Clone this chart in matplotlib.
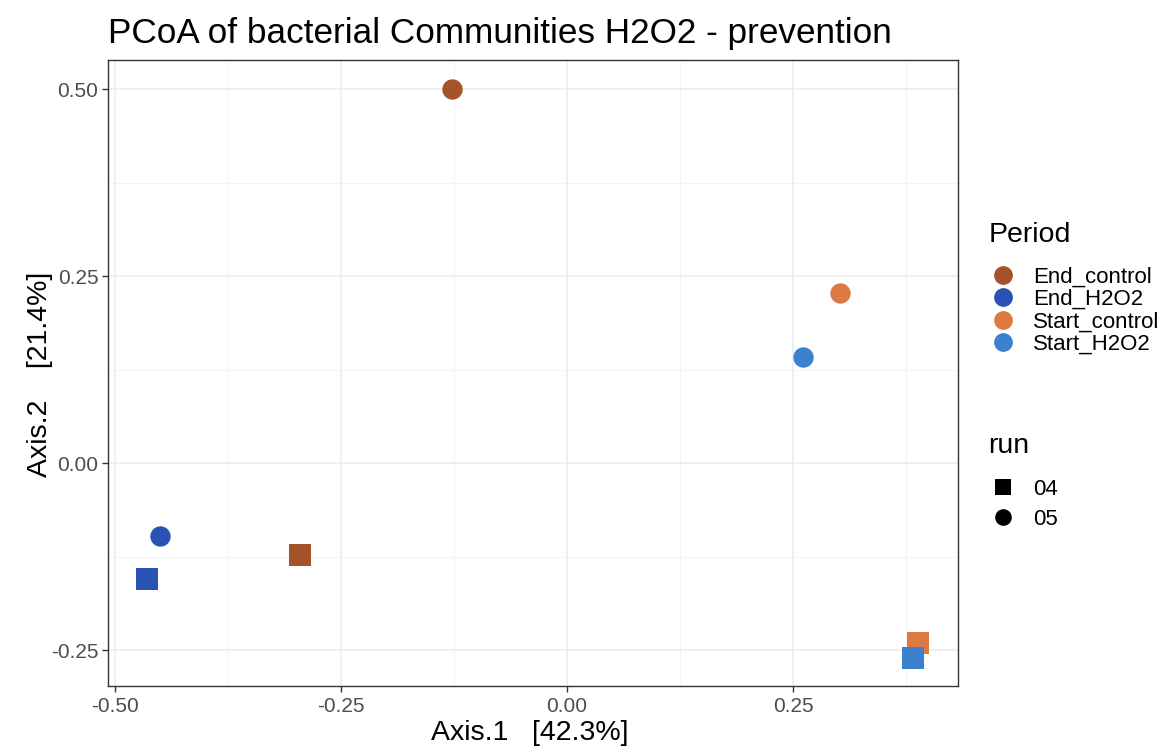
import matplotlib
matplotlib.use("Agg")
import matplotlib.pyplot as plt
from matplotlib.lines import Line2D

plt.rcParams['font.family'] = ['Liberation Sans', 'DejaVu Sans']

# PCoA coordinates of each sample
periods = ["End_control", "End_H2O2", "Start_control", "Start_H2O2",
           "End_control", "End_H2O2", "Start_control", "Start_H2O2"]
runs = ["05", "05", "05", "05", "04", "04", "04", "04"]
axis1 = [-0.127, -0.451, 0.302, 0.261, -0.296, -0.465, 0.388, 0.383]
axis2 = [0.500, -0.098, 0.227, 0.142, -0.123, -0.155, -0.240, -0.261]

period_levels = ["End_control", "End_H2O2", "Start_control", "Start_H2O2"]
period_colors = {"End_control": "#A5532B", "End_H2O2": "#2A52B5",
                 "Start_control": "#DD7A44", "Start_H2O2": "#3C80D0"}
run_levels = ["04", "05"]
run_markers = {"04": "s", "05": "o"}

x_ticks = [-0.50, -0.25, 0.00, 0.25]
y_ticks = [-0.25, 0.00, 0.25, 0.50]

W, H = 1168, 749
fig = plt.figure(figsize=(W / 100, H / 100), dpi=100)
ax = fig.add_axes([108 / W, 1 - 686 / H, 850 / W, 626 / H])


def fx(px):
    return px / W


def fy(py):
    return 1 - py / H


for x, y, p, r in zip(axis1, axis2, periods, runs):
    ax.scatter([x], [y], s=230 if r == "04" else 215, marker=run_markers[r],
               color=period_colors[p], linewidths=0, zorder=3)

ax.set_xlim(-0.508, 0.4325)
ax.set_ylim(-0.298, 0.539)
ax.set_xticks(x_ticks)
ax.set_yticks(y_ticks)
ax.set_xticklabels([f"{t:.2f}" for t in x_ticks])
ax.set_yticklabels([f"{t:.2f}" for t in y_ticks])
ax.set_xticks([-0.375, -0.125, 0.125, 0.375], minor=True)
ax.set_yticks([-0.125, 0.125, 0.375], minor=True)
ax.grid(which="major", color="#EBEBEB", linewidth=1.1, zorder=0)
ax.grid(which="minor", color="#F3F3F3", linewidth=0.6, zorder=0)
ax.set_axisbelow(True)
ax.tick_params(which="major", length=4, width=1, color="#333333",
               labelsize=15, labelcolor="#4D4D4D", pad=3)
ax.tick_params(axis="x", which="major", pad=4)
ax.tick_params(which="minor", length=0)
for sp in ax.spines.values():
    sp.set_color("#333333")
    sp.set_linewidth(1)

# Axis titles
fig.text(fx(530), fy(733), "Axis.1   [42.3%]", fontsize=20.5,
         ha="center", va="center")
fig.text(fx(40), fy(374), "Axis.2    [21.4%]", fontsize=20.5,
         ha="center", va="center", rotation=90)
fig.text(fx(108), fy(33), "PCoA of bacterial Communities H2O2 - prevention",
         fontsize=25.3, ha="left", va="center")

# Colour legend (Period)
fig.text(fx(989), fy(242), "Period", fontsize=20.5, ha="left", va="baseline")
for p, py in zip(period_levels, [275, 297, 320, 342]):
    fig.add_artist(Line2D([fx(1003)], [fy(py)], transform=fig.transFigure,
                          linestyle="none", marker="o", markersize=13.5,
                          markerfacecolor=period_colors[p], markeredgewidth=0))
    fig.text(fx(1033), fy(py), p, fontsize=16, ha="left",
             va="center_baseline")

# Shape legend (run)
fig.text(fx(988), fy(453), "run", fontsize=20.5, ha="left", va="baseline")
for r, py in zip(run_levels, [487, 517]):
    fig.add_artist(Line2D([fx(1003)], [fy(py)], transform=fig.transFigure,
                          linestyle="none", marker=run_markers[r],
                          markersize=11 if r == "04" else 12,
                          markerfacecolor="black", markeredgewidth=0))
    fig.text(fx(1033), fy(py), r, fontsize=16, ha="left",
             va="center_baseline")

fig.savefig("out.png", dpi=100)
